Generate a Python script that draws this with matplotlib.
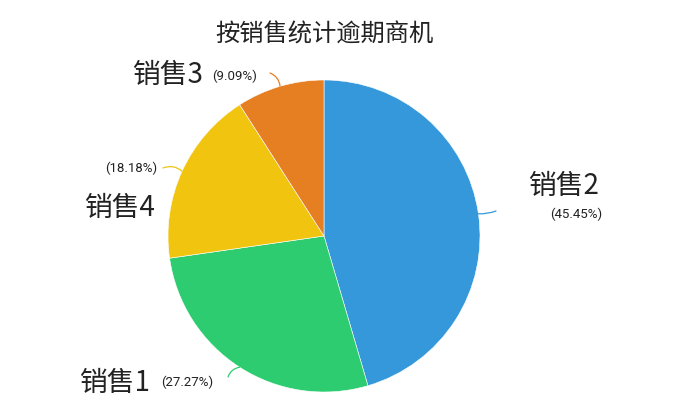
import numpy as np
import matplotlib.pyplot as plt

names = ['销售2', '销售1', '销售4', '销售3']
counts = [5, 3, 2, 1]
colors = ['#3498db', '#2ecc71', '#f1c40f', '#e67e22']
title = '按销售统计逾期商机'

W, H = 683, 413
cx, cy, R = 324, 236, 156

fig = plt.figure(figsize=(W / 100, H / 100), dpi=100)
ax = fig.add_axes([(cx - R) / W, (H - cy - R) / H, 2 * R / W, 2 * R / H])
wedges, _ = ax.pie(counts, colors=colors, startangle=90, counterclock=False,
                   radius=1, wedgeprops=dict(edgecolor='white', linewidth=0.4))
ax.set_xlim(-1, 1)
ax.set_ylim(-1, 1)
ax.set_aspect('equal')
ax.axis('off')

def px(x, y):
    # pixel (from top-left) -> data coords of the pie axes
    return (x - cx) / R, (cy - y) / R

cjk = ['Noto Sans CJK SC', 'DejaVu Sans']
num = ['Roboto', 'DejaVu Sans']

total = sum(counts)
# label layout: (leader end, name pos, pct pos)
layout = {
    '销售2': ((496, 211), (564, 186), (576, 214)),
    '销售1': ((228, 377), (115, 383), (187, 382)),
    '销售4': ((163, 168), (120, 208), (131, 168)),
    '销售3': ((270, 73), (168, 75), (235, 76)),
}
rads = {'销售2': -0.1, '销售1': -0.3, '销售4': -0.3, '销售3': -0.3}

for w, n, c, col in zip(wedges, names, counts, colors):
    mid = np.deg2rad((w.theta1 + w.theta2) / 2)
    edge = (np.cos(mid), np.sin(mid))
    end, npos, ppos = layout[n]
    ax.annotate('', xy=edge, xytext=px(*end), xycoords='data',
                arrowprops=dict(arrowstyle='-', color=col, lw=0.9,
                                shrinkA=0, shrinkB=0,
                                connectionstyle='arc3,rad=%s' % rads[n]),
                annotation_clip=False)
    ax.text(*px(*npos), n, ha='center', va='center', fontsize=20,
            family=cjk, fontweight='light', color='#222222', clip_on=False)
    ax.text(*px(*ppos), '(%.2f%%)' % (c / total * 100), ha='center', va='center',
            fontsize=9.5, family=num, color='#222222', clip_on=False)

fig.text(324 / W, 1 - 35 / H, title, ha='center', va='center', fontsize=17.5,
         family=cjk, fontweight='light', color='#222222')

fig.savefig('out.png', dpi=100)
